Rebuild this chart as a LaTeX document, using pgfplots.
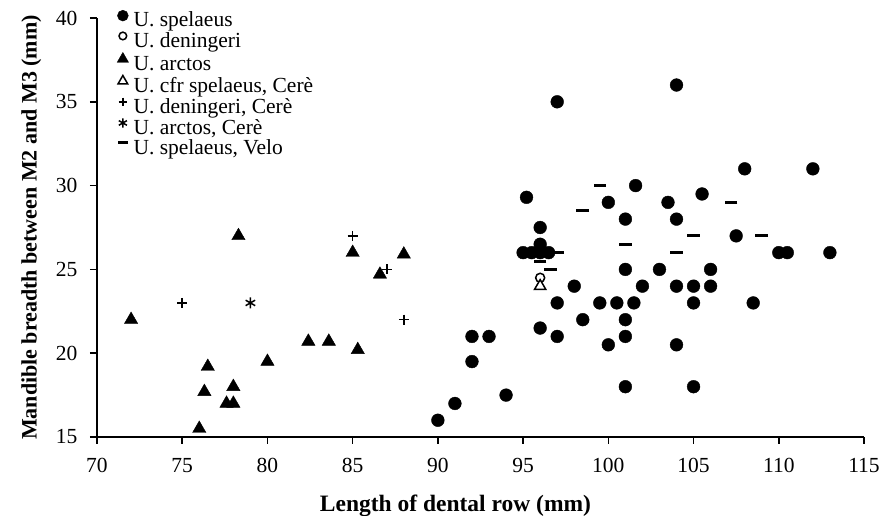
\documentclass[border=0pt]{standalone}
\usepackage{pgfplots}
\pgfplotsset{compat=1.18}
\usepackage{fontspec}
\setmainfont{Liberation Serif}
\begin{document}
\begin{tikzpicture}
\useasboundingbox (-97pt,-79pt) rectangle (784pt,437pt);
\begin{axis}[
  at={(0pt,0pt)}, anchor=south west,
  scale only axis, width=767pt, height=419pt,
  xmin=70, xmax=115, ymin=15, ymax=40,
  xtick={70,75,...,115}, ytick={15,20,...,40},
  axis lines*=left,
  axis line style={line width=1.6pt, black},
  tick style={line width=1.6pt, black},
  tick align=outside, major tick length=7pt,
  clip=false,
  /pgf/number format/assume math mode=true,
  tick label style={font=\fontsize{21.5}{21.5}\selectfont},
  xticklabel style={yshift=-11pt},
  yticklabel style={xshift=-9pt},
  every axis x label/.style={at={(axis description cs:0.4674,-0.1783)}, anchor=base, font=\bfseries\fontsize{23.5}{24}\selectfont},
  every axis y label/.style={at={(axis description cs:-0.0786,0.5)}, rotate=90, anchor=base, font=\bfseries\fontsize{22}{22}\selectfont},
  xlabel={Length of dental row (mm)},
  ylabel={Mandible breadth between M2 and M3 (mm)},
  legend style={draw=none, fill=none, at={(axis description cs:0,1)}, anchor=north west, xshift=20pt, yshift=8pt,
    font=\fontsize{21.5}{21.5}\selectfont, row sep=0pt, inner sep=0pt, column sep=5pt,
    nodes={inner sep=0pt, text height=14.8pt, text depth=5.2pt}},
  legend cell align=left,
  legend image code/.code={\draw[#1] plot coordinates {(0pt,6.5pt)};},
  legend image post style={/tikz/every mark/.append style={scale=0.85}},
]
\addplot[only marks, mark=*, mark size=6.4pt, black] coordinates {
(90,16) (91,17) (92,21) (92,19.5) (93,21) (94,17.5)
(95.2,29.3) (97,35) (104,36)
(95,26) (95.5,26) (96,26) (96.5,26) (96,27.5) (96,26.5)
(96,21.5) (97,23) (97,21) (98,24) (98.5,22)
(99.5,23) (100,29) (100,20.5) (100.5,23) (101,28) (101,25) (101,22) (101,21) (101,18) (101.5,23) (101.6,30) (102,24)
(103,25) (103.5,29) (104,28) (104,24) (104,20.5) (105,24) (105,23) (105,18) (105.5,29.5) (106,25) (106,24)
(107.5,27) (108,31) (108.5,23) (110,26) (110.5,26) (112,31) (113,26)
};
\addlegendentry{U. spelaeus}
\addplot[only marks, mark=*, mark size=4.5pt, line width=1.5pt, black, mark options={fill=white, draw=black}] coordinates {
(96,24.5)
};
\addlegendentry{U. deningeri}
\addplot[only marks, mark=triangle*, mark size=7.7pt, black] coordinates {
(72,22) (78.3,27) (76.5,19.2) (80,19.5) (76.3,17.7) (78,18) (77.6,17) (78,17) (76,15.5)
(85,26) (88,25.9) (86.6,24.7) (82.4,20.7) (83.6,20.7) (85.3,20.2)
};
\addlegendentry{U. arctos}
\addplot[only marks, mark=triangle*, mark size=6.5pt, line width=1.5pt, black, mark options={fill=white, draw=black}] coordinates {
(96,24)
};
\addlegendentry{U. cfr spelaeus, Cerè}
\addplot[only marks, mark=+, mark size=5pt, line width=1.5pt, black] coordinates {
(75,23) (85,27) (87,25) (88,22)
};
\addlegendentry{U. deningeri, Cerè}
\addplot[only marks, mark=asterisk, mark size=5.5pt, line width=1.5pt, black] coordinates {
(79,23)
};
\addlegendentry{U. arctos, Cerè}
\addplot[only marks, mark=-, mark size=6.3pt, line width=3pt, black] coordinates {
(97,26) (96,25.5) (96.6,25) (98.5,28.5) (99.5,30) (101,26.5) (104,26) (105,27) (107.2,29) (109,27)
};
\addlegendentry{U. spelaeus, Velo}
\end{axis}
\end{tikzpicture}
\end{document}
